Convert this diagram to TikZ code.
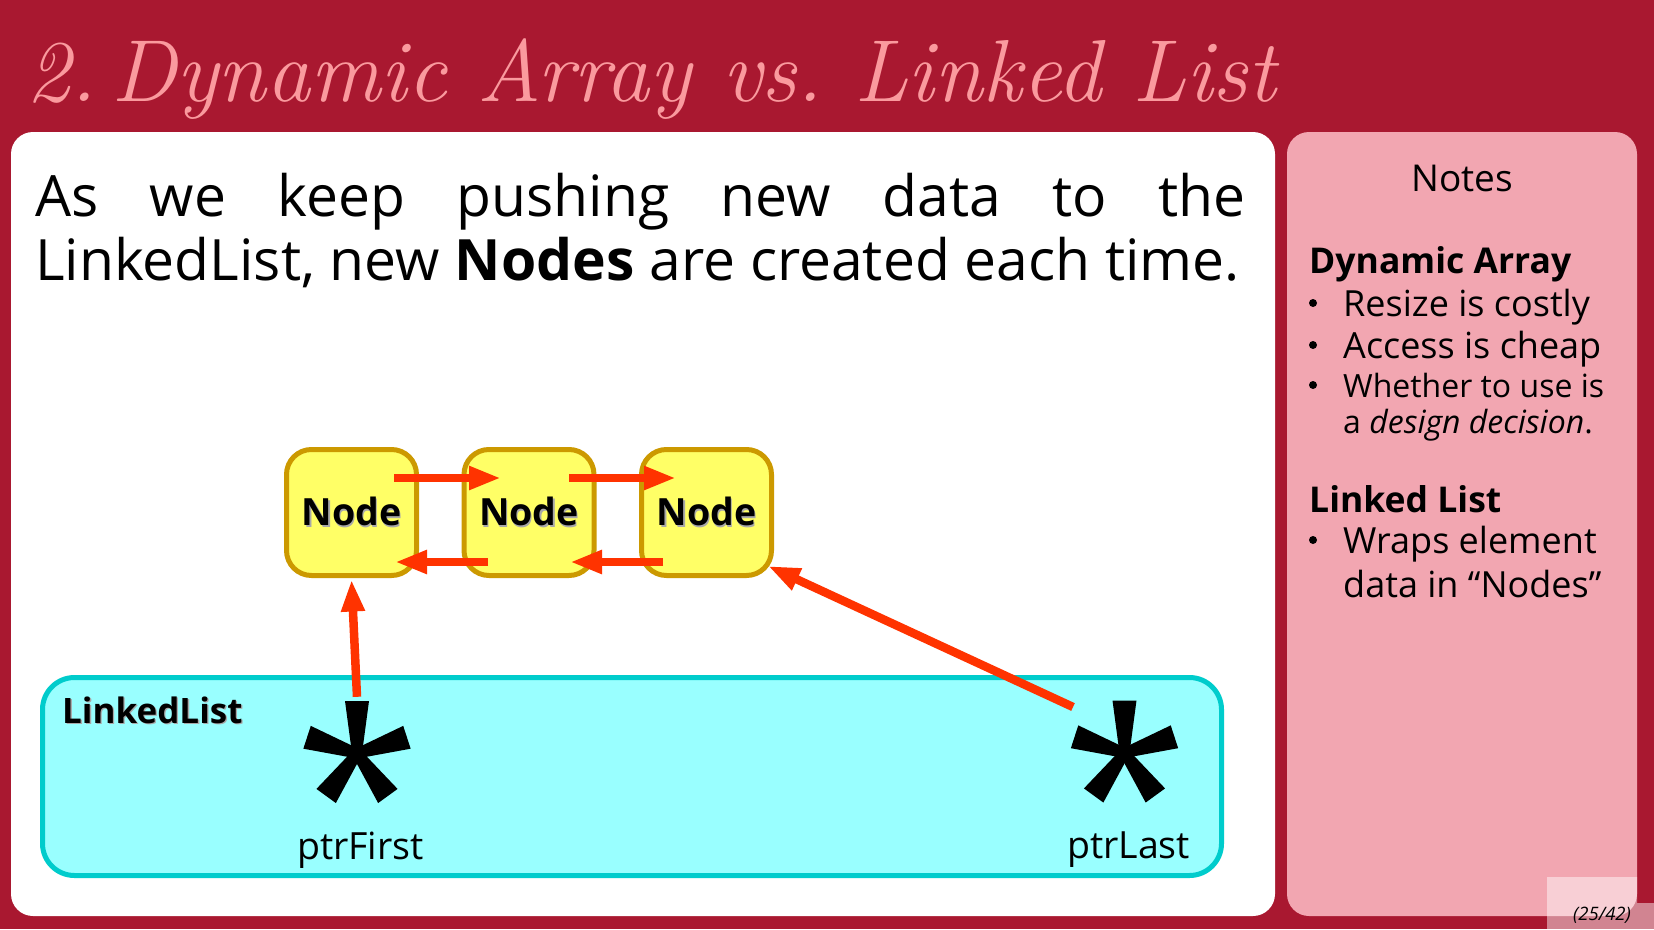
\documentclass[tikz,border=0pt]{standalone}
\usepackage{fontspec}
\setsansfont{Open Sans}
\usetikzlibrary{arrows.meta,calc}

\definecolor{crimson}{HTML}{A91830}
\definecolor{titlepink}{HTML}{FA9A9E}
\definecolor{notepink}{HTML}{F2A6B1}
\definecolor{nodefill}{HTML}{FFFF66}
\definecolor{nodeedge}{HTML}{CC9900}
\definecolor{listfill}{HTML}{99FFFF}
\definecolor{listedge}{HTML}{00CCCC}
\definecolor{ptrred}{HTML}{FF3300}
\definecolor{shadowgray}{HTML}{A8A8A8}

% font size in points (1pt = 1 unit of the picture)
\newcommand\fsz[1]{\fontsize{#1pt}{#1pt}\selectfont}
% bold label with a soft grey drop shadow
\newcommand\shadowed[1]{\rlap{\hspace{1.3pt}\raisebox{-1.3pt}{\textcolor{shadowgray}{#1}}}#1}

\tikzset{
  listnode/.style={draw=nodeedge, fill=nodefill, line width=5pt,
    rounded corners=25pt, minimum width=130pt, minimum height=126pt,
    inner sep=0pt, font=\sffamily\bfseries\fsz{37.5}},
  link/.style={draw=ptrred, line width=8.5pt,
    -{Triangle[length=32pt,width=22pt]}},
  ptrnode/.style={circle, minimum size=105pt, inner sep=0pt},
  body/.style={inner sep=0pt, font=\sffamily\fsz{36}},
  smallbody/.style={inner sep=0pt, font=\sffamily\fsz{32}},
  bodybold/.style={inner sep=0pt, font=\sffamily\bfseries\fsz{35.5}},
  bulletdot/.style={circle, fill=black, minimum size=8pt, inner sep=0pt},
  ptrlabel/.style={anchor=base, inner sep=0pt, font=\sffamily\fsz{37.5}},
  ptrstar/.pic={
    \foreach \a in {90,162,234,306,18} {
      \fill[black, rotate=\a] (0,-5) -- (52.5,-12) -- (52.5,12) -- (0,5) -- cycle;
    }
    \fill[black] (0,0) circle (8);
  }
}

\begin{document}
\frenchspacing
\begin{tikzpicture}[x=1pt, y=-1pt]
  \useasboundingbox (0,0) rectangle (1654,929);
  \fill[crimson] (0,0) rectangle (1654,929);

  % title
  \node[anchor=base west, inner sep=0pt, text=titlepink,
    font=\itshape\fsz{88}] (title) at (26,101) {2.\,Dynamic Array vs. Linked List};

  % panels
  \fill[white, rounded corners=22pt] (11,132) rectangle (1275,916);
  \fill[notepink, rounded corners=22pt] (1287,132) rectangle (1637,916);

  % page counter tab
  \fill[white, opacity=0.47] (1547,877) -- (1637,877) -- (1637,903) -- (1654,903)
    -- (1654,929) -- (1547,929) -- cycle;
  \node[anchor=base, inner sep=0pt, font=\sffamily\itshape\fsz{18.5}] (page)
    at (1602,920) {(25/42)};

  % lead text
  \node[anchor=base west, inner sep=0pt, font=\sffamily\fsz{57}] (line1) at (35,216)
    {\makebox[1210pt][s]{As we keep pushing new data to the}};
  \node[anchor=base west, inner sep=0pt, font=\sffamily\fsz{57}] (line2) at (35,280)
    {LinkedList, new \textbf{Nodes} are created each time.};

  % the list object
  \draw[listedge, fill=listfill, line width=5pt, rounded corners=32pt]
    (42.5,677.5) rectangle (1221.5,875.5);
  \node[anchor=base west, inner sep=0pt, font=\sffamily\bfseries\fsz{35}] (llname)
    at (62,723) {\shadowed{LinkedList}};

  % pointers
  \node[ptrnode] (pf) at (357,753.5) {};
  \node[ptrnode] (pl) at (1124.5,753) {};
  \pic at (pf) {ptrstar};
  \pic at (pl) {ptrstar};
  \node[ptrlabel] (pfname) at (360.5,859) {ptrFirst};
  \node[ptrlabel] (plname) at (1128.5,858) {ptrLast};

  % nodes of the chain
  \node[listnode] (n1) at (351.5,512.5) {\shadowed{Node}};
  \node[listnode] (n2) at (529,512.5) {\shadowed{Node}};
  \node[listnode] (n3) at (706.5,512.5) {\shadowed{Node}};

  % next links
  \draw[link] ($(n1.center)+(42.5,-34.5)$) -- ($(n2.center)+(-28,-34.5)$);
  \draw[link] ($(n2.center)+(40,-34.5)$) -- ($(n3.center)+(-30.5,-34.5)$);
  % prev links
  \draw[link] ($(n2.center)+(-41,49.5)$) -- ($(n1.center)+(43.5,49.5)$);
  \draw[link] ($(n3.center)+(-43.5,49.5)$) -- ($(n2.center)+(41,49.5)$);
  % head and tail pointers
  \draw[link] ($(pf.north)+(0,-4)$) -- ($(n1.south)+(0,1.5)$);
  \draw[link] ($(pl.center)+(-51.5,-46)$) -- ($(n3.center)+(61.5,53.5)$);

  % notes
  \node[anchor=base, inner sep=0pt, font=\sffamily\fsz{37}] (notes) at (1462,191) {Notes};
  \node[bodybold, anchor=base west] (hda) at (1309,273) {Dynamic Array};
  \node[bulletdot] (b1) at (1313,303) {};
  \node[body, anchor=base west] (t1) at (1343,316) {Resize is costly};
  \node[bulletdot] (b2) at (1313,345) {};
  \node[body, anchor=base west] (t2) at (1343,358) {Access is cheap};
  \node[bulletdot] (b3) at (1313,385) {};
  \node[smallbody, anchor=base west] (t3) at (1343,397) {Whether to use is};
  \node[smallbody, anchor=base west] (t4) at (1343,433) {a \textit{design decision}.};
  \node[bodybold, anchor=base west] (hll) at (1309,512) {Linked List};
  \node[bulletdot] (b4) at (1313,540) {};
  \node[body, anchor=base west] (t5) at (1343,553) {Wraps element};
  \node[body, anchor=base west] (t6) at (1343,597) {data in “Nodes”};
\end{tikzpicture}
\end{document}
